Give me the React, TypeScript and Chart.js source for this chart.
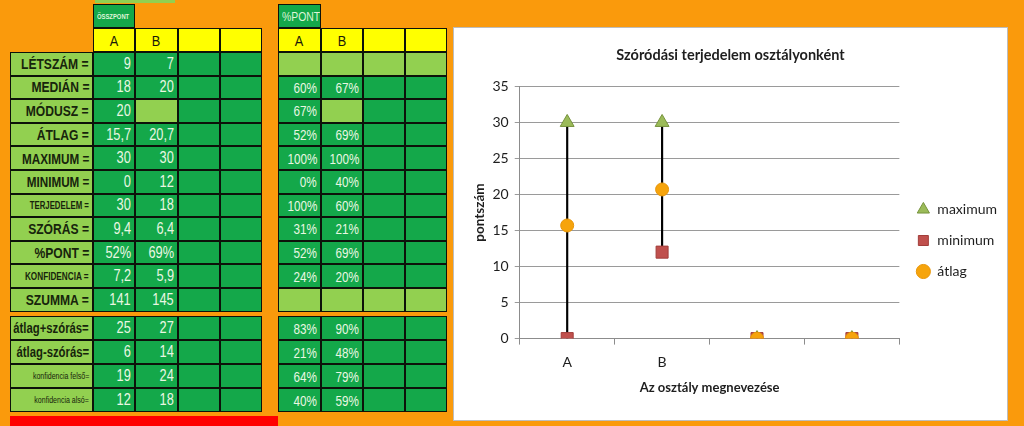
import React, { useEffect, useRef } from "react";
import { Chart, registerables } from "chart.js";

Chart.register(...registerables);

// ---------- DATA ----------
const categories = ["A", "B", "", ""];
const maximum = [30, 30, 0, 0];
const minimum = [0, 12, 0, 0];
const atlag = [15.7, 20.7, 0, 0];
const yTicksMax = 35;
const yStep = 5;

const chartTitle = "Szóródási terjedelem osztályonként";
const xTitle = "Az osztály megnevezése";
const yTitle = "pontszám";
const seriesNames = ["maximum", "minimum", "átlag"];

const classHeaders = ["A", "B", "", ""];
const rowLabels = [
  "LÉTSZÁM =",
  "MEDIÁN =",
  "MÓDUSZ =",
  "ÁTLAG =",
  "MAXIMUM =",
  "MINIMUM =",
  "TERJEDELEM =",
  "SZÓRÁS =",
  "%PONT =",
  "KONFIDENCIA =",
  "SZUMMA =",
];
const pointsA = ["9", "18", "20", "15,7", "30", "0", "30", "9,4", "52%", "7,2", "141"];
const pointsB = ["7", "20", "", "20,7", "30", "12", "18", "6,4", "69%", "5,9", "145"];
const pctA = ["", "60%", "67%", "52%", "100%", "0%", "100%", "31%", "52%", "24%", ""];
const pctB = ["", "67%", "", "69%", "100%", "40%", "60%", "21%", "69%", "20%", ""];

const extraLabels = ["átlag+szórás=", "átlag-szórás=", "konfidencia felső=", "konfidencia alsó="];
const extraA = ["25", "6", "19", "12"];
const extraB = ["27", "14", "24", "18"];
const extraPctA = ["83%", "21%", "64%", "40%"];
const extraPctB = ["90%", "48%", "79%", "59%"];

// ---------- STYLE / LAYOUT ----------
const ORANGE = "#FA9A0C";
const LIGHT = "#92D050";
const GREEN = "#14A84A";
const YELLOW = "#FFFF00";
const HTML_FONT = "'Liberation Sans', Arial, sans-serif";
const CHART_FONT = "Lato, 'Liberation Sans', sans-serif";

const colsL = [10, 93, 135, 178, 220, 262];
const colsR = [278, 321, 363, 405, 447];
const block1Top = 52;
const block1Row = 23.6;
const block2Top = 316;
const block2Row = 24;

const labelSize = [15.5, 15.5, 15.5, 15.5, 15, 15, 10, 15.5, 15.5, 10.5, 15.5];
const extraLabelSize = [14.5, 14.5, 9, 9];
const extraLabelWeight = [700, 700, 400, 400];

type CellProps = {
  x0: number;
  x1: number;
  y0: number;
  y1: number;
  bg: string;
  children?: React.ReactNode;
  align?: "left" | "right" | "center";
  size?: number;
  color?: string;
  weight?: number;
  sx?: number;
};

function Cell({ x0, x1, y0, y1, bg, children, align = "right", size = 15, color = "#EAF7E2", weight = 400, sx = 0.8 }: CellProps) {
  return (
    <div
      style={{
        position: "absolute",
        left: x0,
        top: y0,
        width: x1 - x0,
        height: y1 - y0,
        boxSizing: "border-box",
        border: "1px solid #0d120a",
        background: bg,
        display: "flex",
        alignItems: "center",
        justifyContent: align === "right" ? "flex-end" : align === "left" ? "flex-start" : "center",
        padding: "0 3px",
        fontFamily: HTML_FONT,
        fontSize: size,
        fontWeight: weight,
        color,
        whiteSpace: "nowrap",
        overflow: "hidden",
      }}
    >
      <span
        style={{
          display: "inline-block",
          transform: `scaleX(${sx})`,
          transformOrigin: align === "right" ? "right center" : align === "left" ? "left center" : "center center",
          flexShrink: 0,
        }}
      >
        {children}
      </span>
    </div>
  );
}

function Tables() {
  const cells: React.ReactNode[] = [];
  const rows1 = rowLabels.map((_, i) => [block1Top + i * block1Row, block1Top + (i + 1) * block1Row]);
  const rows2 = extraLabels.map((_, i) => [block2Top + i * block2Row, block2Top + (i + 1) * block2Row]);

  cells.push(
    <Cell key="hL" x0={colsL[1]} x1={colsL[2]} y0={4} y1={28} bg={GREEN} align="left" size={6.5} color="#dff5d8" weight={700} sx={0.9}>
      ÖSSZPONT
    </Cell>
  );
  cells.push(
    <Cell key="hR" x0={colsR[0]} x1={colsR[1]} y0={4} y1={28} bg={GREEN} align="left" size={13} color="#dff5d8" sx={0.8}>
      %PONT
    </Cell>
  );
  classHeaders.forEach((h, c) => {
    cells.push(
      <Cell key={"yl" + c} x0={colsL[c + 1]} x1={colsL[c + 2]} y0={28} y1={block1Top} bg={YELLOW} align="center" size={15} color="#1a1a0a" sx={0.85}>
        {h}
      </Cell>
    );
    cells.push(
      <Cell key={"yr" + c} x0={colsR[c]} x1={colsR[c + 1]} y0={28} y1={block1Top} bg={YELLOW} align="center" size={15} color="#1a1a0a" sx={0.85}>
        {h}
      </Cell>
    );
  });

  rowLabels.forEach((lab, i) => {
    const [y0, y1] = rows1[i];
    cells.push(
      <Cell key={"l" + i} x0={colsL[0]} x1={colsL[1]} y0={y0} y1={y1} bg={LIGHT} size={labelSize[i]} color="#17240c" weight={700} sx={0.78}>
        {lab}
      </Cell>
    );
    const lastRow = i === rowLabels.length - 1;
    [pointsA[i], pointsB[i], "", ""].forEach((v, c) => {
      const bg = i === 2 && c === 1 ? LIGHT : GREEN;
      cells.push(
        <Cell key={"a" + i + c} x0={colsL[c + 1]} x1={colsL[c + 2]} y0={y0} y1={y1} bg={bg} size={16} sx={0.8}>
          {v}
        </Cell>
      );
    });
    [pctA[i], pctB[i], "", ""].forEach((v, c) => {
      const bg = i === 0 || lastRow || (i === 2 && c === 1) ? LIGHT : GREEN;
      cells.push(
        <Cell key={"p" + i + c} x0={colsR[c]} x1={colsR[c + 1]} y0={y0} y1={y1} bg={bg} size={15} sx={0.78}>
          {v}
        </Cell>
      );
    });
  });

  extraLabels.forEach((lab, i) => {
    const [y0, y1] = rows2[i];
    cells.push(
      <Cell key={"el" + i} x0={colsL[0]} x1={colsL[1]} y0={y0} y1={y1} bg={LIGHT} size={extraLabelSize[i]} color="#17240c" weight={extraLabelWeight[i]} sx={0.78}>
        {lab}
      </Cell>
    );
    [extraA[i], extraB[i], "", ""].forEach((v, c) => {
      cells.push(
        <Cell key={"ea" + i + c} x0={colsL[c + 1]} x1={colsL[c + 2]} y0={y0} y1={y1} bg={GREEN} size={16} sx={0.8}>
          {v}
        </Cell>
      );
    });
    [extraPctA[i], extraPctB[i], "", ""].forEach((v, c) => {
      cells.push(
        <Cell key={"ep" + i + c} x0={colsR[c]} x1={colsR[c + 1]} y0={y0} y1={y1} bg={GREEN} size={15} sx={0.78}>
          {v}
        </Cell>
      );
    });
  });

  return <>{cells}</>;
}

function ChartPanel() {
  const ref = useRef<HTMLCanvasElement | null>(null);
  useEffect(() => {
    if (!ref.current) return;
    const font = { family: CHART_FONT, size: 14 };
    const ranges = minimum.map((mn, i) => [mn, maximum[i]]);
    const chart = new Chart(ref.current, {
      type: "bar",
      data: {
        labels: categories,
        datasets: [
          {
            type: "line",
            label: seriesNames[0],
            data: maximum,
            showLine: false,
            pointStyle: "triangle",
            pointRadius: 8,
            backgroundColor: "#9BBB59",
            borderColor: "#76923C",
            borderWidth: 1,
            order: 3,
          } as any,
          {
            type: "line",
            label: seriesNames[1],
            data: minimum,
            showLine: false,
            pointStyle: "rect",
            pointRadius: 8.5,
            backgroundColor: "#C0504D",
            borderColor: "#A23E3B",
            borderWidth: 1,
            order: 2,
          } as any,
          {
            type: "line",
            label: seriesNames[2],
            data: atlag,
            showLine: false,
            pointStyle: "circle",
            pointRadius: 6.5,
            backgroundColor: "#F6A40C",
            borderColor: "#E8960A",
            borderWidth: 1,
            order: 1,
          } as any,
          {
            type: "bar",
            label: "range",
            data: ranges as any,
            backgroundColor: "#000000",
            borderWidth: 0,
            barThickness: 1.5,
            order: 10,
          } as any,
        ],
      },
      options: {
        animation: false,
        responsive: false,
        maintainAspectRatio: false,
        layout: { padding: { left: 0, right: 0, top: 19, bottom: 20 } },
        plugins: {
          tooltip: { enabled: false },
          title: {
            display: true,
            text: chartTitle,
            color: "#1e1e1e",
            font: { family: CHART_FONT, size: 14.5, weight: "bold" },
            padding: { top: 0, bottom: 22 },
          },
          legend: {
            position: "right",
            align: "center",
            title: { display: true, text: " ", padding: 11, font: { size: 10 } },
            labels: {
              usePointStyle: true,
              boxWidth: 14,
              boxHeight: 10,
              padding: 17,
              color: "#1e1e1e",
              font: { family: CHART_FONT, size: 14 },
              filter: (item: any) => item.datasetIndex < 3,
              sort: (a: any, b: any) => a.datasetIndex - b.datasetIndex,
            },
          },
        },
        scales: {
          x: {
            offset: true,
            grid: { display: true, drawOnChartArea: false, offset: true, tickLength: 6, color: "#8c8c8c" },
            border: { display: true, color: "#8c8c8c" },
            ticks: { color: "#1e1e1e", font, padding: 9 },
            title: {
              display: true,
              text: xTitle,
              color: "#1e1e1e",
              font: { family: CHART_FONT, size: 13, weight: "bold" },
              padding: { top: 1 },
            },
          },
          y: {
            min: 0,
            max: yTicksMax,
            ticks: { stepSize: yStep, color: "#1e1e1e", font, padding: 6 },
            grid: { color: "#9a9a9a", tickLength: 5 },
            border: { display: true, color: "#8c8c8c" },
            title: {
              display: true,
              text: yTitle,
              color: "#1e1e1e",
              font: { family: CHART_FONT, size: 13.5, weight: "bold", lineHeight: 1 },
              padding: { top: 19, bottom: 0 },
            },
          },
        },
      } as any,
    });
    return () => chart.destroy();
  }, []);
  return (
    <div
      style={{
        position: "absolute",
        left: 453,
        top: 27,
        width: 555,
        height: 394,
        boxSizing: "border-box",
        border: "1px solid #bdbdbd",
        background: "#ffffff",
      }}
    >
      <canvas ref={ref} width={553} height={392} style={{ display: "block" }} />
    </div>
  );
}

export default function App() {
  return (
    <div
      style={{
        position: "fixed",
        left: 0,
        top: 0,
        width: 1024,
        height: 426,
        background: ORANGE,
        overflow: "hidden",
      }}
    >
      <div style={{ position: "absolute", left: 95, top: 0, width: 80, height: 3, background: LIGHT }} />
      <Tables />
      <div style={{ position: "absolute", left: 10, top: 416, width: 268, height: 14, background: "#FF0000" }} />
      <ChartPanel />
    </div>
  );
}
